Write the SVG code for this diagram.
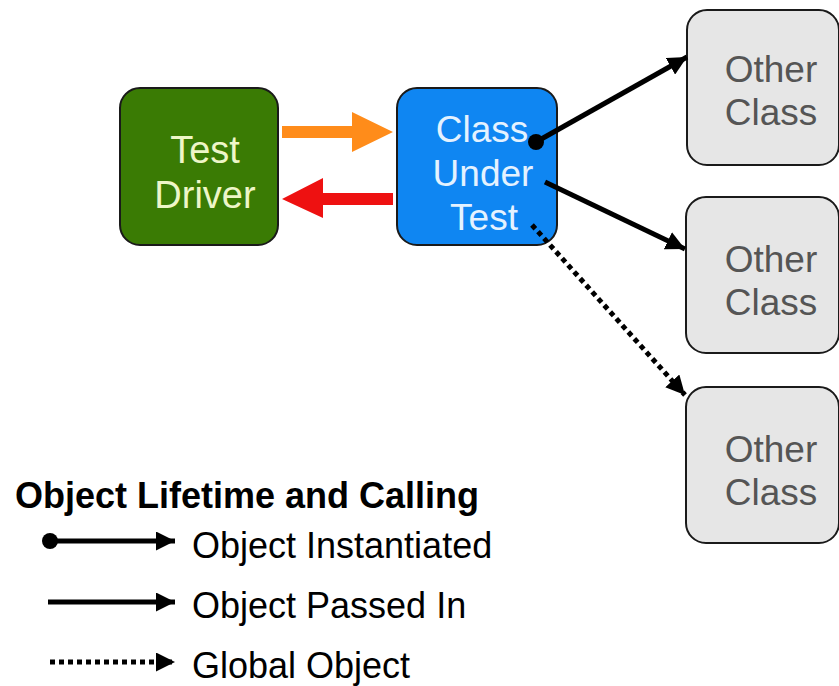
<svg xmlns="http://www.w3.org/2000/svg" width="839" height="686" viewBox="0 0 839 686">
<defs>
<marker id="ah" viewBox="0 0 10 10" refX="10" refY="5" markerWidth="19" markerHeight="19" markerUnits="userSpaceOnUse" orient="auto">
<path d="M0,0 L10,5 L0,10 z" fill="#000"/>
</marker>
<marker id="dot" viewBox="0 0 10 10" refX="5" refY="5" markerWidth="16" markerHeight="16" markerUnits="userSpaceOnUse">
<circle cx="5" cy="5" r="5" fill="#000"/>
</marker>
</defs>
<style>
text{font-family:"Liberation Sans",Arial,sans-serif;text-anchor:middle}
.box{stroke:#1a1a1a;stroke-width:2}
.other{fill:#e6e6e6}
.otxt{fill:#555;font-size:37px}
.conn{stroke:#000;stroke-width:5;fill:none}
.dotted{stroke-dasharray:5 4}
.leg{text-anchor:start;fill:#000;font-size:36px}
</style>
<g id="test-driver">
<rect class="box" x="120" y="88" width="158" height="157" rx="20" fill="#3a7b04"/>
<text x="205" y="163" font-size="38" fill="#eef6c8">Test</text>
<text x="205" y="208" font-size="38" fill="#eef6c8">Driver</text>
</g>
<g id="class-under-test">
<rect class="box" x="397" y="88" width="160" height="157" rx="20" fill="#0f86f2"/>
<text x="482" y="142" font-size="37" fill="#e4f2ff">Class</text>
<text x="483" y="186" font-size="37" fill="#e4f2ff">Under</text>
<text x="484" y="230" font-size="37" fill="#e4f2ff">Test</text>
</g>
<g id="other-class-1">
<rect class="box other" x="687" y="10" width="152" height="155" rx="20"/>
<text class="otxt" x="771" y="82">Other</text>
<text class="otxt" x="771" y="125">Class</text>
</g>
<g id="other-class-2">
<rect class="box other" x="686" y="197" width="153" height="156" rx="20"/>
<text class="otxt" x="771" y="272">Other</text>
<text class="otxt" x="771" y="315">Class</text>
</g>
<g id="other-class-3">
<rect class="box other" x="686" y="387" width="153" height="156" rx="20"/>
<text class="otxt" x="771" y="462">Other</text>
<text class="otxt" x="771" y="505">Class</text>
</g>
<g id="connectors">
<path d="M282,126 H352 V112 L393,132 L352,152 V138 H282 z" fill="#ff8c1a"/>
<path d="M393,193 H323 V178 L282,199 L323,218 V205 H393 z" fill="#ee1111"/>
<line class="conn" x1="536" y1="142" x2="687" y2="57" marker-start="url(#dot)" marker-end="url(#ah)"/>
<line class="conn" x1="545" y1="182" x2="685" y2="249" marker-end="url(#ah)"/>
<line class="conn dotted" x1="532" y1="225" x2="685" y2="395" marker-end="url(#ah)"/>
</g>
<g id="legend">
<text class="leg" x="15" y="508" font-weight="bold">Object Lifetime and Calling</text>
<line class="conn" x1="50" y1="541" x2="175" y2="541" marker-start="url(#dot)" marker-end="url(#ah)"/>
<text class="leg" x="192" y="558">Object Instantiated</text>
<line class="conn" x1="48" y1="602" x2="175" y2="602" marker-end="url(#ah)"/>
<text class="leg" x="192" y="618">Object Passed In</text>
<line class="conn dotted" x1="50" y1="662" x2="175" y2="662" marker-end="url(#ah)"/>
<text class="leg" x="192" y="678">Global Object</text>
</g>
</svg>
